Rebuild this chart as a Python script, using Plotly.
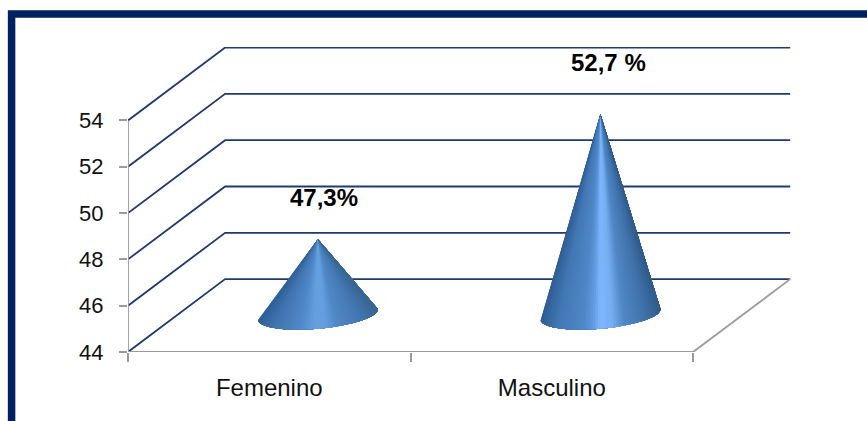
import numpy as np
import plotly.graph_objects as go

# chart values
categories = ["Femenino", "Masculino"]
values = [47.3, 52.7]
value_labels = ["47,3%", "52,7 %"]
y_ticks = [44, 46, 48, 50, 52, 54]

# 3d look, everything in axis units
Y_MIN = 44
Y_MAX = 57.17
X_MAX = 2.3465
DEPTH_X = 0.3437    # back wall offset
DEPTH_Y = 3.147
CONE_R = 0.2
CONE_DEPTH = 0.21

NAVY = "#1f3a6e"
GRAY = "#9a9a9a"
FONT = "Liberation Sans"

# f across the cone -> colour
shade_small = [(0, "#30609a"), (0.14, "#4276b2"), (0.35, "#5088c8"), (0.47, "#659fdf"),
               (0.56, "#659fdf"), (0.66, "#5088c6"), (0.86, "#4478b2"), (1, "#386694")]
shade_big = [(0, "#305e94"), (0.14, "#4278b4"), (0.36, "#5088c8"), (0.44, "#629ce0"), (0.5, "#80b8ff"),
             (0.6, "#76aef2"), (0.7, "#5088c6"), (0.88, "#4072aa"), (1, "#305c8a")]


def pick_color(stops, f):
    fs = [s[0] for s in stops]
    rgb = [[int(s[1][i:i + 2], 16) for i in (1, 3, 5)] for s in stops]
    return "rgb(%d,%d,%d)" % tuple(np.interp(f, fs, [c[k] for c in rgb]) for k in range(3))


fig = go.Figure()


def add_line(xs, ys, color, width):
    fig.add_trace(go.Scatter(x=xs, y=ys, mode="lines", line=dict(color=color, width=width),
                             hoverinfo="skip", showlegend=False))


# walls
for v in y_ticks:
    add_line([0, DEPTH_X, 2 + DEPTH_X], [v, v + DEPTH_Y, v + DEPTH_Y], NAVY, 1.8)

# floor edge and axis lines
add_line([0, 2, 2 + DEPTH_X], [Y_MIN, Y_MIN, Y_MIN + DEPTH_Y], GRAY, 1.8)
add_line([0, 0], [Y_MIN, y_ticks[-1]], GRAY, 1.8)


def add_cone(center, value, stops):
    cx = center + DEPTH_X / 2
    cy = Y_MIN + DEPTH_Y / 2 + 0.05
    # circle on the floor, sheared by the depth direction
    t0 = np.arctan2(CONE_DEPTH * DEPTH_X, CONE_R)
    ts = np.linspace(np.pi + t0, 2 * np.pi + t0, 71)
    xs = cx + CONE_R * np.cos(ts) + CONE_DEPTH * DEPTH_X * np.sin(ts)
    ys = cy + CONE_DEPTH * DEPTH_Y * np.sin(ts)
    apex_y = value + DEPTH_Y / 2
    # each slice covers the rest of the cone so no seams show between slices
    for i in range(len(ts) - 1):
        f = ((xs[i] + xs[i + 1]) / 2 - xs[0]) / (xs[-1] - xs[0])
        fig.add_trace(go.Scatter(x=[cx, *xs[i:], cx], y=[apex_y, *ys[i:], apex_y],
                                 mode="lines", fill="toself", fillcolor=pick_color(stops, f), line=dict(width=0),
                                 hoverinfo="skip", showlegend=False))


add_cone(0.5, values[0], shade_small)
add_cone(1.5, values[1], shade_big)

# value labels
fig.add_annotation(x=0.5 + 0.195, y=values[0] + 3.37, text="<b>%s</b>" % value_labels[0], showarrow=False,
                   font=dict(family=FONT, size=24, color="#000000"))
fig.add_annotation(x=1.5 + 0.2, y=values[1] + 3.8, text="<b>%s</b>" % value_labels[1], showarrow=False,
                   font=dict(family=FONT, size=24, color="#000000"))

# dark frame, open on the right and at the bottom of the page
fig.add_shape(type="rect", xref="paper", yref="paper", x0=-0.1756, x1=1.4, y0=-0.3, y1=1.1079,
              line=dict(color="#002060", width=7.5), fillcolor="rgba(0,0,0,0)", layer="below")

fig.update_xaxes(range=[0, X_MAX], tickmode="array", tickvals=[0.5, 1.5], ticktext=categories,
                 ticks="", showgrid=False, zeroline=False, showline=False, ticklabelstandoff=19,
                 tickfont=dict(family=FONT, size=24, color="#111111"),
                 minor=dict(tickmode="array", tickvals=[0, 1, 2], ticks="outside", ticklen=9,
                            tickwidth=1.8, tickcolor=GRAY, showgrid=False))
fig.update_yaxes(range=[Y_MIN, Y_MAX], tickmode="array", tickvals=y_ticks, ticks="outside", ticklen=8,
                 tickwidth=1.8, tickcolor=GRAY, showgrid=False, zeroline=False, showline=False,
                 ticklabelstandoff=11, tickfont=dict(family=FONT, size=22, color="#111111"))
fig.update_layout(width=867, height=421, margin=dict(l=127.5, r=75.5, t=46.5, b=69),
                  paper_bgcolor="white", plot_bgcolor="white", showlegend=False)

# page margin off so the figure starts at the window corner
fig.write_html("out.html", config=dict(displayModeBar=False),
               post_script="document.body.style.margin='0';")
